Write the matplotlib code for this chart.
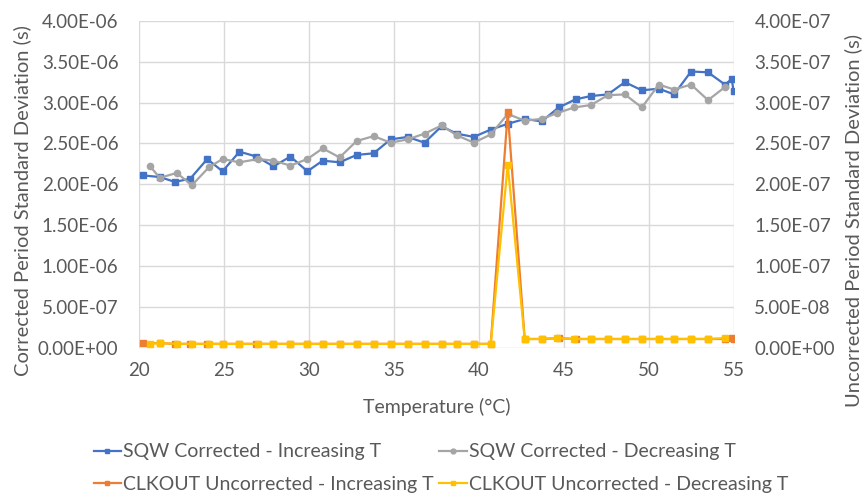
import matplotlib
matplotlib.use("Agg")
import matplotlib.pyplot as plt
from matplotlib.ticker import MultipleLocator, FuncFormatter

plt.rcParams['font.family'] = ['Lato', 'DejaVu Sans']

# SQW / CLKOUT sweep, increasing temperature
temp_inc = [20.2, 21.2, 22.1, 23.0, 24.0, 24.9, 25.9, 26.9, 27.9, 28.9,
            29.9, 30.8, 31.8, 32.8, 33.8, 34.8, 35.8, 36.8, 37.8, 38.7,
            39.7, 40.7, 41.7, 42.7, 43.7, 44.7, 45.7, 46.6, 47.6, 48.6,
            49.6, 50.6, 51.5, 52.5, 53.5, 54.5, 54.9, 55.0]
sqw_inc = [2.11, 2.09, 2.03, 2.07, 2.31, 2.16, 2.40, 2.34, 2.22, 2.34,
           2.16, 2.29, 2.27, 2.36, 2.38, 2.55, 2.58, 2.51, 2.71, 2.62,
           2.58, 2.67, 2.74, 2.80, 2.77, 2.94, 3.04, 3.08, 3.10, 3.25,
           3.15, 3.17, 3.10, 3.38, 3.37, 3.22, 3.29, 3.14]  # x1e-6 s
clk_inc = [0.06, 0.06, 0.05, 0.05, 0.05, 0.05, 0.05, 0.05, 0.05, 0.05,
           0.05, 0.05, 0.05, 0.05, 0.05, 0.05, 0.05, 0.05, 0.05, 0.05,
           0.05, 0.05, 2.88, 0.11, 0.11, 0.12, 0.11, 0.11, 0.11, 0.11,
           0.11, 0.11, 0.11, 0.11, 0.11, 0.11, 0.12, 0.11]  # x1e-7 s

# decreasing temperature
temp_dec = [20.6, 21.2, 22.2, 23.1, 24.1, 24.9, 25.9, 27.0, 27.9, 28.9,
            29.9, 30.8, 31.8, 32.8, 33.8, 34.8, 35.8, 36.8, 37.8, 38.7,
            39.7, 40.7, 41.7, 42.7, 43.7, 44.6, 45.6, 46.6, 47.6, 48.6,
            49.6, 50.6, 51.5, 52.5, 53.5, 54.5]
sqw_dec = [2.23, 2.08, 2.14, 1.99, 2.21, 2.31, 2.27, 2.31, 2.29, 2.23,
           2.31, 2.44, 2.33, 2.53, 2.59, 2.51, 2.55, 2.62, 2.72, 2.60,
           2.51, 2.61, 2.86, 2.78, 2.80, 2.87, 2.94, 2.97, 3.09, 3.10,
           2.94, 3.22, 3.16, 3.22, 3.03, 3.19]
clk_dec = [0.05, 0.06, 0.05, 0.05, 0.05, 0.05, 0.05, 0.05, 0.05, 0.05,
           0.05, 0.05, 0.05, 0.05, 0.05, 0.05, 0.05, 0.05, 0.05, 0.05,
           0.05, 0.05, 2.24, 0.11, 0.11, 0.12, 0.11, 0.11, 0.11, 0.11,
           0.11, 0.11, 0.11, 0.11, 0.11, 0.12]

labels = ['SQW Corrected - Increasing T', 'SQW Corrected - Decreasing T',
          'CLKOUT Uncorrected - Increasing T', 'CLKOUT Uncorrected - Decreasing T']
colors = ['#4472C4', '#A5A5A5', '#ED7D31', '#FFC000']
txt = '#595959'
grid = '#D9D9D9'

fig = plt.figure(figsize=(8.66, 4.95), dpi=100)
ax = fig.add_axes([0.1609, 0.297, 0.6861, 0.661])
ax2 = ax.twinx()

l1, = ax.plot(temp_inc, [v * 1e-6 for v in sqw_inc], color=colors[0], lw=1.6,
              marker='s', ms=4.5, label=labels[0])
l2, = ax.plot(temp_dec, [v * 1e-6 for v in sqw_dec], color=colors[1], lw=1.6,
              marker='o', ms=4.5, label=labels[1])
l3, = ax2.plot(temp_inc, [v * 1e-7 for v in clk_inc], color=colors[2], lw=1.6,
               marker='s', ms=4.5, label=labels[2])
l4, = ax2.plot(temp_dec, [v * 1e-7 for v in clk_dec], color=colors[3], lw=1.6,
               marker='s', ms=4.5, label=labels[3])

ax.set_xlim(20, 55)
ax.set_ylim(0, 4e-6)
ax2.set_ylim(0, 4e-7)
ax.xaxis.set_major_locator(MultipleLocator(5))
ax.yaxis.set_major_locator(MultipleLocator(0.5e-6))
ax2.yaxis.set_major_locator(MultipleLocator(0.5e-7))

def sci(v, pos):
    return '%.2E' % v

ax.yaxis.set_major_formatter(FuncFormatter(sci))
ax2.yaxis.set_major_formatter(FuncFormatter(sci))

ax.grid(True, color=grid, lw=1)
ax.set_axisbelow(True)
for a in (ax, ax2):
    for sp in a.spines.values():
        sp.set_visible(False)
    a.tick_params(length=0, labelsize=13.5, labelcolor=txt)
ax.tick_params(axis='y', pad=15)
ax2.tick_params(axis='y', pad=15)
ax.tick_params(axis='x', pad=10)

ax.set_xlabel('Temperature (°C)', fontsize=14, color=txt)
ax.xaxis.set_label_coords(0.501, -0.152)
ax.set_ylabel('Corrected Period Standard Deviation (s)', fontsize=14.5, color=txt)
ax.yaxis.set_label_coords(-0.182, 0.45)
ax2.set_ylabel('Uncorrected Period Standard Deviation (s)', fontsize=14.5,
               color=txt, rotation=90)
ax2.yaxis.set_label_coords(1.186, 0.39)

leg = fig.legend([l1, l3, l2, l4], [labels[0], labels[2], labels[1], labels[3]],
                 ncol=2, loc='upper left', bbox_to_anchor=(0.097, 0.124),
                 frameon=False, fontsize=14, handlelength=1.4, handletextpad=0.1,
                 columnspacing=0.3, labelspacing=0.8, borderpad=0)
for t in leg.get_texts():
    t.set_color(txt)
for h in leg.legend_handles:
    h.set_markersize(3.5)

fig.savefig('out.png', dpi=100)
